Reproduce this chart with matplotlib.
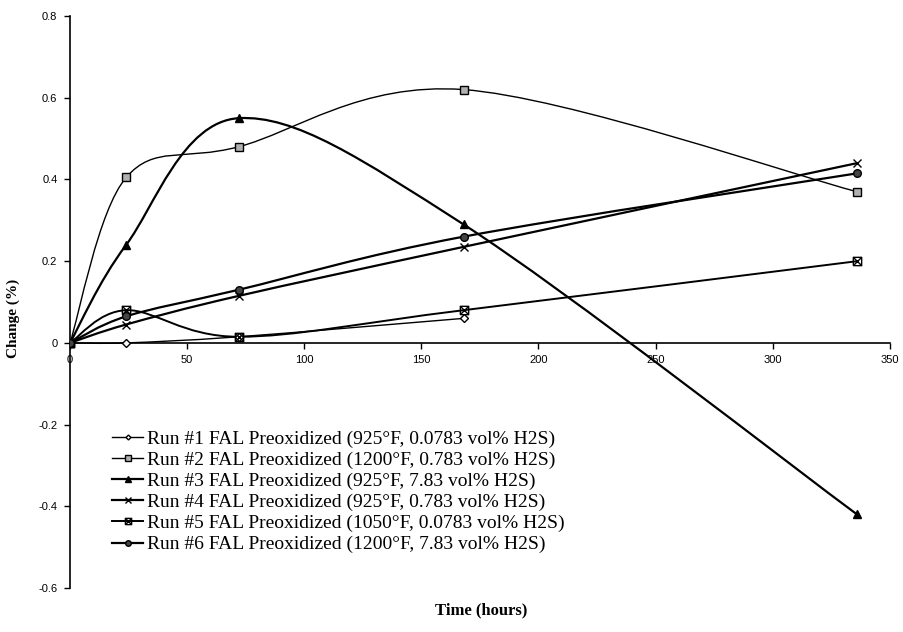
import numpy as np
import matplotlib
matplotlib.use("Agg")
import matplotlib.pyplot as plt
from matplotlib.path import Path
from matplotlib.patches import PathPatch
from matplotlib.lines import Line2D

# data
hours = [0, 24, 72, 168, 336]
run1 = [0, 0.0, 0.015, 0.06]
run2 = [0, 0.405, 0.48, 0.62, 0.37]
run3 = [0, 0.24, 0.55, 0.29, -0.42]
run4 = [0, 0.045, 0.115, 0.235, 0.44]
run5 = [0, 0.08, 0.015, 0.08, 0.20]
run6 = [0, 0.065, 0.13, 0.26, 0.415]

labels = [
    "Run #1 FAL Preoxidized (925°F, 0.0783 vol% H2S)",
    "Run #2 FAL Preoxidized (1200°F, 0.783 vol% H2S)",
    "Run #3 FAL Preoxidized (925°F, 7.83 vol% H2S)",
    "Run #4 FAL Preoxidized (925°F, 0.783 vol% H2S)",
    "Run #5 FAL Preoxidized (1050°F, 0.0783 vol% H2S)",
    "Run #6 FAL Preoxidized (1200°F, 7.83 vol% H2S)",
]
xticks = [0, 50, 100, 150, 200, 250, 300, 350]
yticks = [-0.6, -0.4, -0.2, 0, 0.2, 0.4, 0.6, 0.8]
ytick_labels = ["-0.6", "-0.4", "-0.2", "0", "0.2", "0.4", "0.6", "0.8"]

# square with diagonals (run 5 marker)
box_x = Path([(-1, -1), (1, -1), (1, 1), (-1, 1), (-1, -1), (-1, -1), (1, 1), (-1, 1), (1, -1)],
             [Path.MOVETO, Path.LINETO, Path.LINETO, Path.LINETO, Path.LINETO,
              Path.MOVETO, Path.LINETO, Path.MOVETO, Path.LINETO])

styles = [
    dict(marker="D", ms=4, mfc="white", lw=1.0),
    dict(marker="s", ms=5.5, mfc="#b0b0b0", lw=1.0),
    dict(marker="^", ms=6, mfc="black", lw=1.6),
    dict(marker="x", ms=6, mfc="none", lw=1.6),
    dict(marker=box_x, ms=6, mfc="none", lw=1.4),
    dict(marker="o", ms=5.5, mfc="#444444", lw=1.6),
]


def smooth_path(x, y):
    # Excel-like smoothed line: Catmull-Rom as cubic Bezier segments
    p = np.column_stack([x, y]).astype(float)
    verts = [p[0]]
    codes = [Path.MOVETO]
    n = len(p)
    for i in range(n - 1):
        p0 = p[max(i - 1, 0)]
        p1 = p[i]
        p2 = p[i + 1]
        p3 = p[min(i + 2, n - 1)]
        c1 = p1 + (p2 - p0) / 6
        c2 = p2 - (p3 - p1) / 6
        verts += [c1, c2, p2]
        codes += [Path.CURVE4] * 3
    return Path(verts, codes)


fig = plt.figure(figsize=(9.04, 6.32), dpi=100)
ax = fig.add_axes([0.0774, 0.0696, 0.907, 0.905])

series = [run1, run2, run3, run4, run5, run6]
handles = []
for vals, st in zip(series, styles):
    xs = hours[:len(vals)]
    ax.add_patch(PathPatch(smooth_path(xs, vals), fill=False, edgecolor="black",
                           lw=st["lw"], zorder=2))
    ax.plot(xs, vals, linestyle="none", marker=st["marker"], ms=st["ms"],
            mfc=st["mfc"], mec="black", mew=1.0, color="black", zorder=3)
    handles.append(Line2D([], [], color="black", lw=st["lw"], marker=st["marker"],
                          ms=st["ms"] - 1.5, mfc=st["mfc"], mec="black", mew=1.0))

ax.set_xlim(0, 350)
ax.set_ylim(-0.6, 0.8)
ax.spines["top"].set_visible(False)
ax.spines["right"].set_visible(False)
ax.spines["bottom"].set_position(("data", 0))
ax.spines["left"].set_linewidth(1.2)
ax.spines["bottom"].set_linewidth(1.2)
ax.set_xticks(xticks)
ax.set_yticks(yticks)
ax.set_yticklabels(ytick_labels)
ax.tick_params(axis="both", direction="out", length=4, width=1, labelsize=8, pad=5)
for t in ax.get_xticklabels() + ax.get_yticklabels():
    t.set_family("Liberation Sans")

ax.set_ylabel("Change (%)", family="Liberation Serif", fontweight="bold", fontsize=11)
ax.yaxis.set_label_coords(-0.061, 0.472)
ax.set_xlabel("Time (hours)", family="Liberation Serif", fontweight="bold", fontsize=12)
ax.xaxis.set_label_coords(0.502, -0.025)

leg = ax.legend(handles, labels, loc="upper left", bbox_to_anchor=(0.03, 0.307),
                frameon=False, handlelength=1.6, handletextpad=0.2,
                labelspacing=0.18, prop={"family": "Liberation Serif", "size": 14})

fig.savefig("out.png", dpi=100)
